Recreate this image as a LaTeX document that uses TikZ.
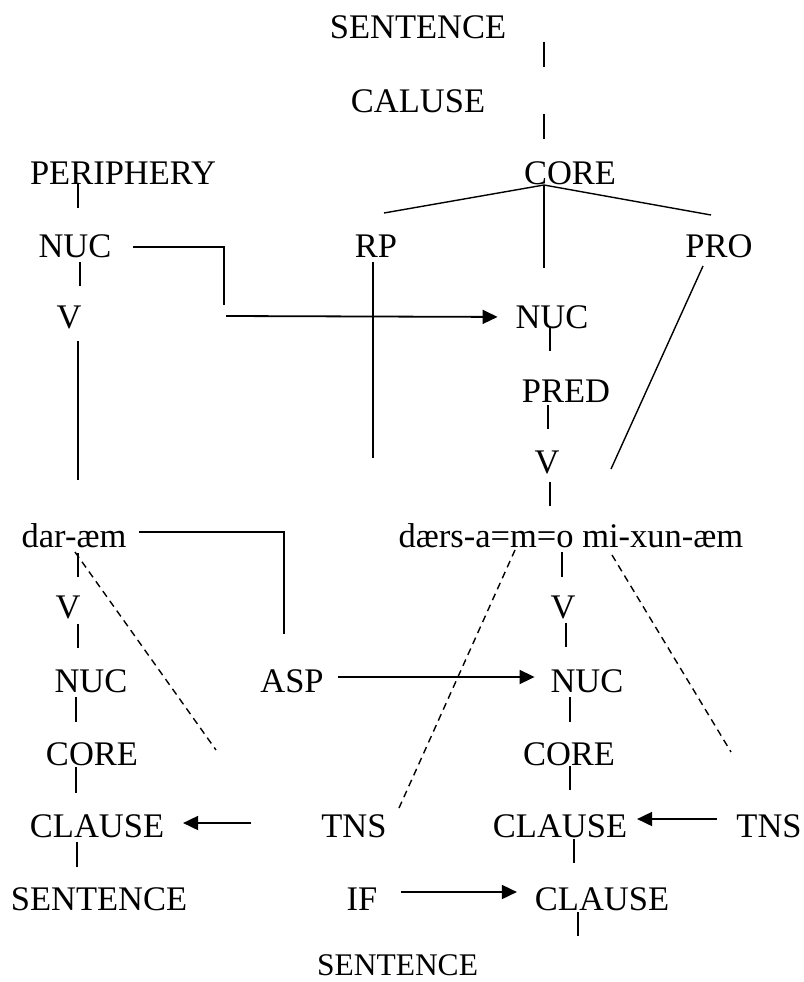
\documentclass[tikz,border=0pt]{standalone}
\usepackage{fontspec}
\setmainfont{Liberation Serif}
\usepackage{tkz-graph}
\usetikzlibrary{arrows.meta}

\begin{document}
\begin{tikzpicture}[x=1pt,y=-1pt,line width=1.4pt,
        >={Triangle[length=15pt,width=14pt]},
        arr/.style={->,line width=1.8pt},
        dashlink/.style={dash pattern=on 7pt off 5pt}]
        \tikzset{VertexStyle/.style={anchor=base,inner sep=0pt,outer sep=0pt,
            text height=23pt,text depth=0pt,
            font=\fontsize{34.5pt}{40pt}\selectfont}}
        \useasboundingbox (0,0) rectangle (803,982);

        \Vertex[x=418,y=39,L=SENTENCE]{sent}
        \Vertex[x=418,y=112,L=CALUSE]{caluse}
        \Vertex[x=123,y=184,L=PERIPHERY]{periph}
        \Vertex[x=570,y=184,L=CORE]{core}

        \Vertex[x=75,y=257,L=NUC]{nucL}
        \Vertex[x=376,y=257,L=RP]{rp}
        \Vertex[x=719,y=257,L=PRO]{pro}
        \Vertex[x=69,y=328,L=V]{vL}
        \Vertex[x=552,y=328,L=NUC]{nucM}
        \Vertex[x=566,y=402,L=PRED]{pred}
        \Vertex[x=547,y=473,L=V]{vM}

        \Vertex[x=74,y=547,L={dar-æm}]{dar}
        \Vertex[x=571,y=547,L={dærs-a=m=o mi-xun-æm}]{daers}

        \Vertex[x=68,y=618,L=V]{vL2}
        \Vertex[x=563,y=618,L=V]{vR2}
        \Vertex[x=91,y=692,L=NUC]{nucL3}
        \Vertex[x=292,y=692,L=ASP]{asp}
        \Vertex[x=587,y=692,L=NUC]{nucR3}
        \Vertex[x=92,y=765,L=CORE]{coreL}
        \Vertex[x=569,y=765,L=CORE]{coreR}
        \Vertex[x=97,y=837,L=CLAUSE]{clauseL}
        \Vertex[x=354,y=837,L=TNS]{tnsL}
        \Vertex[x=560,y=837,L=CLAUSE]{clauseR}
        \Vertex[x=769,y=837,L=TNS]{tnsR}
        \Vertex[x=99,y=910,L=SENTENCE]{sentL}
        \Vertex[x=362,y=910,L=IF]{ifn}
        \Vertex[x=602,y=910,L=CLAUSE]{clauseB}
        \Vertex[x=397.5,y=975,L={\fontsize{31.5pt}{40pt}\selectfont SENTENCE}]{sentB}

        \coordinate (link1) at (224,305);
        \coordinate (arrstart) at (226,316);
        \coordinate (rpend) at (373,458);
        \coordinate (proend) at (611,469);
        \coordinate (link2) at (284,634);
        \coordinate (dash1) at (216,750);
        \coordinate (dash3) at (731,752);

        % upper tree
        \path [-] ([xshift=126pt]sent.south) edge[shorten <=3pt,shorten >=22pt] ([xshift=126pt]caluse.north);
        \path [-] ([xshift=126pt]caluse.south) edge[shorten <=2pt,shorten >=22pt] ([xshift=-26pt]core.north);
        \path [-] ([xshift=-45pt]periph.south) edge[shorten <=-1pt,shorten >=26pt] ([xshift=3pt]nucL.north);
        \path [-] ([xshift=-26pt,yshift=-1pt]core.south) edge ([xshift=8pt,yshift=21pt]rp.north);
        \path [-] ([xshift=-26pt,yshift=-1pt]core.south) edge ([xshift=-8pt,yshift=19pt]pro.north);
        \path [-] ([xshift=-26pt]core.south) edge[shorten <=1pt,shorten >=37pt] ([xshift=-8pt]nucM.north);
        \path [-] ([xshift=5pt]nucL.south) edge[shorten <=5pt,shorten >=19pt] ([xshift=11pt]vL.north);
        \path [-] ([xshift=9pt]vL.south) edge[shorten <=13pt,shorten >=44pt] ([xshift=4pt]dar.north);
        \path [-] ([xshift=-3pt]rp.south) edge[shorten <=5pt] (rpend);
        \path [-] ([xshift=-16pt,yshift=-9pt]pro.south) edge (proend);
        \path [-] ([xshift=-2pt]nucM.south) edge[shorten <=-1pt,shorten >=28pt] ([xshift=-16pt]pred.north);
        \path [-] ([xshift=-18pt]pred.south) edge[shorten <=3pt,shorten >=21pt] ([xshift=1pt]vM.north);
        \path [-] ([xshift=3pt]vM.south) edge[shorten <=9pt,shorten >=18pt] ([xshift=-21pt]daers.north);

        \draw ([xshift=22pt,yshift=-1.5pt]nucL.east) -| (link1);
        \path [arr] (arrstart) edge[shorten >=18pt] ([yshift=-0.5pt]nucM.west);

        % lower trees
        \path [-] ([xshift=4pt]dar.south) edge[shorten <=6pt,shorten >=18pt] ([xshift=10pt]vL2.north);
        \path [-] ([xshift=-9pt]daers.south) edge[shorten <=5pt,shorten >=18pt] ([xshift=-1pt]vR2.north);
        \path [-] ([xshift=10pt]vL2.south) edge[shorten <=6pt,shorten >=21pt] ([xshift=-13pt]nucL3.north);
        \path [-] ([xshift=3pt]vR2.south) edge[shorten <=5pt,shorten >=22pt] ([xshift=-21pt]nucR3.north);
        \path [-] ([xshift=-15pt]nucL3.south) edge[shorten <=5pt,shorten >=20pt] ([xshift=-16pt]coreL.north);
        \path [-] ([xshift=-16pt]coreL.south) edge[shorten <=2pt,shorten >=21pt] ([xshift=-21pt]clauseL.north);
        \path [-] ([xshift=-20pt]clauseL.south) edge[shorten <=5pt,shorten >=20pt] ([xshift=-22pt]sentL.north);
        \path [-] ([xshift=-17pt]nucR3.south) edge[shorten <=5pt,shorten >=20pt] ([xshift=1pt]coreR.north);
        \path [-] ([xshift=1pt]coreR.south) edge[shorten <=1pt,shorten >=24pt] ([xshift=10pt]clauseR.north);
        \path [-] ([xshift=14pt]clauseR.south) edge[shorten <=2pt,shorten >=24pt] ([xshift=-28pt]clauseB.north);
        \path [-] ([xshift=-24pt]clauseB.south) edge[shorten <=2pt,shorten >=16pt] ([xshift=180.5pt]sentB.north);

        \draw ([xshift=13pt,yshift=3.5pt]dar.east) -| (link2);
        \path [arr] ([xshift=14pt,yshift=3.5pt]asp.east) edge[shorten >=16pt] ([yshift=3.5pt]nucR3.west);
        \path [arr] ([xshift=-70pt,yshift=2.5pt]tnsL.west) edge[shorten >=19pt] ([yshift=2.5pt]clauseL.east);
        \path [arr] ([xshift=-19.5pt,yshift=6.5pt]tnsR.west) edge[shorten >=10pt] ([yshift=6.5pt]clauseR.east);
        \path [arr] ([xshift=24pt,yshift=6.5pt]ifn.east) edge[shorten >=18pt] ([yshift=6.5pt]clauseB.west);

        % dashed links
        \path [dashlink] ([xshift=1pt,yshift=-5pt]dar.south) edge (dash1);
        \path [dashlink] ([xshift=-56pt,yshift=-3pt]daers.south) edge ([xshift=45pt,yshift=6pt]tnsL.north);
        \path [dashlink] ([xshift=41pt,yshift=-8pt]daers.south) edge (dash3);
    \end{tikzpicture}
\end{document}
